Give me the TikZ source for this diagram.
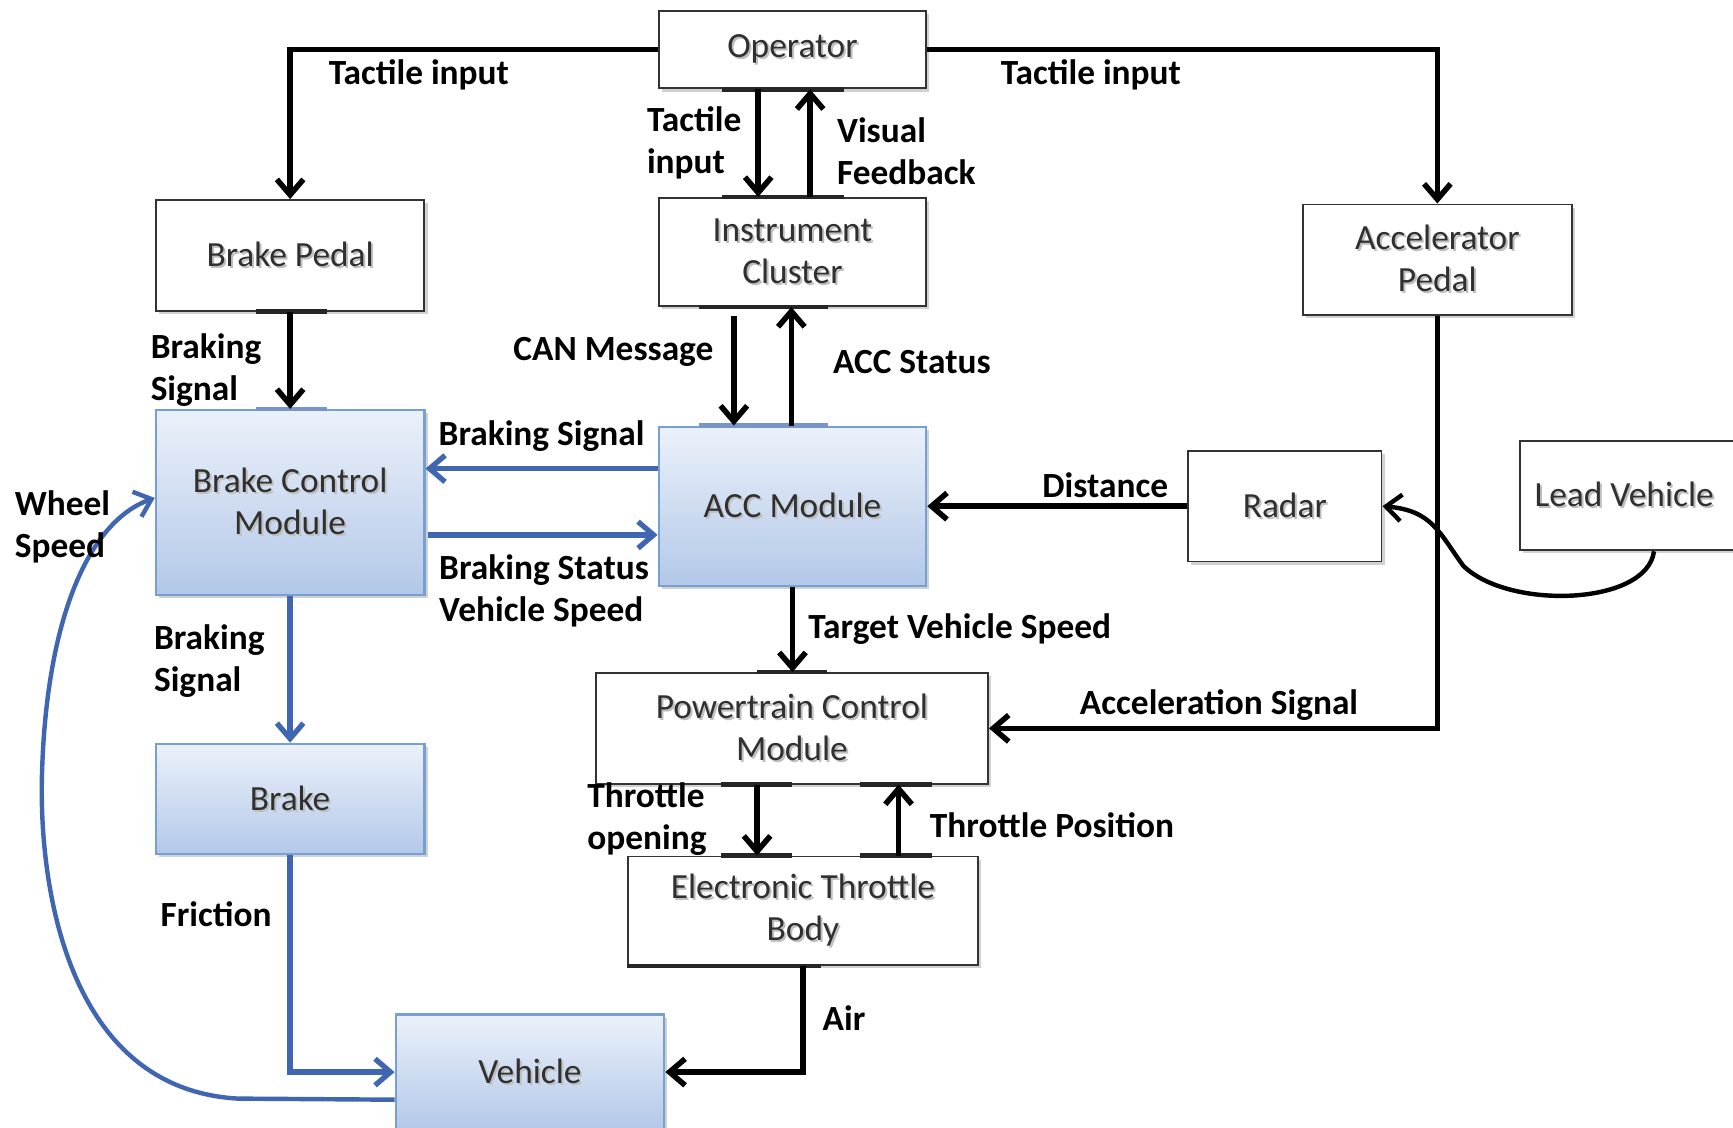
\documentclass[tikz,border=0pt]{standalone}
\usepackage{fontspec}
\setmainfont{Carlito}
\usetikzlibrary{arrows.meta,calc,shadows}

\definecolor{boxtext}{HTML}{303030}
\definecolor{linkblue}{HTML}{4066B2}
\definecolor{blueedge}{HTML}{76A0D4}
\definecolor{bluetop}{HTML}{EBF1FA}
\definecolor{bluebot}{HTML}{B3C8E8}

% box caption with a soft offset shadow behind it
\newcommand\shd[1]{\leavevmode\rlap{\hspace{0.9pt}\raisebox{-0.9pt}{\color{black!25}#1}}#1}

\tikzset{
  base/.style={rectangle, align=center, font=\fontsize{16}{19}\selectfont,
    text=boxtext, inner sep=2pt},
  boxshadow/.style={drop shadow={shadow xshift=1.4pt, shadow yshift=-1.4pt,
    opacity=0.18, fill=black}},
  plainbox/.style={base, boxshadow, draw=black!80, line width=0.85pt, fill=white},
  bluebox/.style={base, boxshadow, draw=blueedge, line width=1pt,
    top color=bluetop, bottom color=bluebot},
  tip/.style={-{Straight Barb[length=7pt,width=12pt]}},
  blk/.style={tip, line width=2.5pt, draw=black},
  blu/.style={tip, line width=2.4pt, draw=linkblue},
  lbl/.style={font=\bfseries\fontsize{16}{19}\selectfont, align=left, inner sep=0pt},
  gluebar/.style={line width=2pt, draw=black!85},
  gluebarblue/.style={line width=2pt, draw=linkblue!70},
}

\begin{document}
\begin{tikzpicture}[x=0.5pt, y=-0.5pt]
  \useasboundingbox (0,0) rectangle (1568,1020);
  \clip (0,0) rectangle (1568,1020);
  \fill[white] (0,0) rectangle (1568,1020);

  % ---- blocks ----
  \node[plainbox, minimum width=121pt, minimum height=35pt] (op) at (717,45) {\shd{Operator}};
  \node[plainbox, minimum width=121.5pt, minimum height=50pt] (bp) at (262.5,231) {\shd{Brake Pedal}};
  \node[plainbox, minimum width=121pt, minimum height=49pt] (ic) at (717,228) {\shd{Instrument}\\\shd{Cluster}};
  \node[plainbox, minimum width=121.5pt, minimum height=50pt] (ap) at (1300.5,235) {\shd{Accelerator}\\\shd{Pedal}};
  \node[bluebox, minimum width=121.5pt, minimum height=83.5pt] (bcm) at (262.5,454.5) {\shd{Brake Control}\\\shd{Module}};
  \node[bluebox, minimum width=121pt, minimum height=72pt] (acc) at (717,458) {\shd{ACC Module}};
  \node[plainbox, minimum width=87.5pt, minimum height=50pt] (rad) at (1162.5,458) {\shd{Radar}};
  \node[plainbox, minimum width=121.5pt, minimum height=49.5pt] (lv) at (1496.5,448.5) {\shd{Lead Vehicle}\hspace*{27pt}};
  \node[plainbox, minimum width=177.5pt, minimum height=50pt] (pcm) at (716.5,659) {\shd{Powertrain Control}\\\shd{Module}};
  \node[plainbox, minimum width=158.5pt, minimum height=49pt] (etb) at (726.5,824) {\shd{Electronic Throttle}\\\shd{Body}};
  \node[bluebox, minimum width=121.5pt, minimum height=50pt] (brk) at (262.5,723) {\shd{Brake}};
  \node[bluebox, minimum width=121.5pt, minimum height=52pt] (veh) at (479.5,970) {\shd{Vehicle}};

  % ---- connection marks on the block edges ----
  \draw[gluebar] ($(op.south)+(-64,0)$) -- ($(op.south)+(47,0)$);
  \draw[gluebar] ($(ic.north)+(-64,0)$) -- ($(ic.north)+(47,0)$);
  \draw[gluebar] ($(ic.south)+(-85,0)$) -- ($(ic.south)+(32,0)$);
  \draw[gluebarblue] ($(acc.north)+(-85,0)$) -- ($(acc.north)+(32,0)$);
  \draw[gluebar] ($(bp.south)+(-31,0)$) -- ($(bp.south)+(33,0)$);
  \draw[gluebarblue] ($(bcm.north)+(-31,0)$) -- ($(bcm.north)+(33,0)$);
  \draw[gluebar] ($(pcm.north)+(-32,0)$) -- ($(pcm.north)+(32,0)$);
  \draw[gluebar] ($(pcm.south)+(-64,0)$) -- ($(pcm.south)+(0,0)$);
  \draw[gluebar] ($(pcm.south)+(62,0)$) -- ($(pcm.south)+(127,0)$);
  \draw[gluebar] ($(etb.north)+(-74,0)$) -- ($(etb.north)+(-10,0)$);
  \draw[gluebar] ($(etb.north)+(52,0)$) -- ($(etb.north)+(117,0)$);
  \draw[gluebar] (etb.south west) -- ($(etb.south)+(16,0)$);

  % ---- operator links ----
  \draw[blk] (op.west) -| (bp.north);
  \draw[blk] (op.east) -| (ap.north);
  \draw[blk] ($(op.south)+(-31,0)$) coordinate (t1) -- (t1 |- ic.north);
  \draw[blk] ($(ic.north)+(16,0)$) coordinate (t2) -- (t2 |- op.south);

  % ---- brake path ----
  \draw[blk] (bp.south) -- (bcm.north);
  \draw[blu] (bcm.south) -- (brk.north);
  \draw[blu] (brk.south) |- (veh.west);
  \draw[blu, line width=2pt] ($(veh.west)+(0,25)$) -- (215,994)
    .. controls (60,985) and (35,800) .. (38,700)
    .. controls (42,560) and (80,472) .. ($(bcm.west)+(0,-4)$);

  % ---- ACC module links ----
  \draw[blk] ($(ic.south)+(-53,8)$) coordinate (t3) -- (t3 |- acc.north);
  \draw[blk] ($(acc.north)+(-1,0)$) coordinate (t4) -- (t4 |- ic.south);
  \draw[blu] ($(acc.west)+(0,-34)$) coordinate (t5) -- (bcm.east |- t5);
  \draw[blu] ($(bcm.east)+(2,29.5)$) coordinate (t6) -- (acc.west |- t6);
  \draw[blk] (rad.west) -- (acc.east);
  \draw[line width=2pt, tip] (lv.south)
    .. controls (1490,548) and (1365,552) .. (1324,512)
    .. controls (1302,482) and (1296,462) .. (rad.east);
  \draw[blk] (acc.south) -- (acc.south |- pcm.north);

  % ---- powertrain links ----
  \draw[blk] (ap.south) |- (pcm.east);
  \draw[blk] ($(pcm.south)+(-31.5,0)$) coordinate (t7) -- (t7 |- etb.north);
  \draw[blk] ($(etb.north)+(86.5,0)$) coordinate (t8) -- (t8 |- pcm.south);
  \draw[blk] (etb.south) |- (veh.east);

  % ---- link labels ----
  \node[lbl] (l1) at (379,68) {Tactile input};
  \node[lbl] (l2) at (987,68) {Tactile input};
  \node[lbl, anchor=west] (l3) at (585,129) {Tactile\\input};
  \node[lbl, anchor=west] (l4) at (757,137) {Visual\\Feedback};
  \node[lbl, anchor=west] (l5) at (136,335) {Braking\\Signal};
  \node[lbl] (l6) at (555,318) {CAN Message};
  \node[lbl] (l7) at (825,328) {ACC Status};
  \node[lbl] (l8) at (490,395) {Braking Signal};
  \node[lbl, anchor=west] (l9) at (397,535) {Braking Status\\Vehicle Speed};
  \node[lbl] (l10) at (1000,439) {Distance};
  \node[lbl, anchor=west] (l11) at (731,569) {Target Vehicle Speed};
  \node[lbl] (l12) at (1103,638) {Acceleration Signal};
  \node[lbl, anchor=west] (l13) at (531,741) {Throttle\\opening};
  \node[lbl, anchor=west] (l14) at (841,747) {Throttle Position};
  \node[lbl, anchor=west] (l15) at (744,921) {Air};
  \node[lbl, anchor=west] (l16) at (139,598) {Braking\\Signal};
  \node[lbl, anchor=west] (l17) at (145,827) {Friction};
  \node[lbl, anchor=west] (l18) at (13,477) {Wheel\\Speed};
\end{tikzpicture}
\end{document}
